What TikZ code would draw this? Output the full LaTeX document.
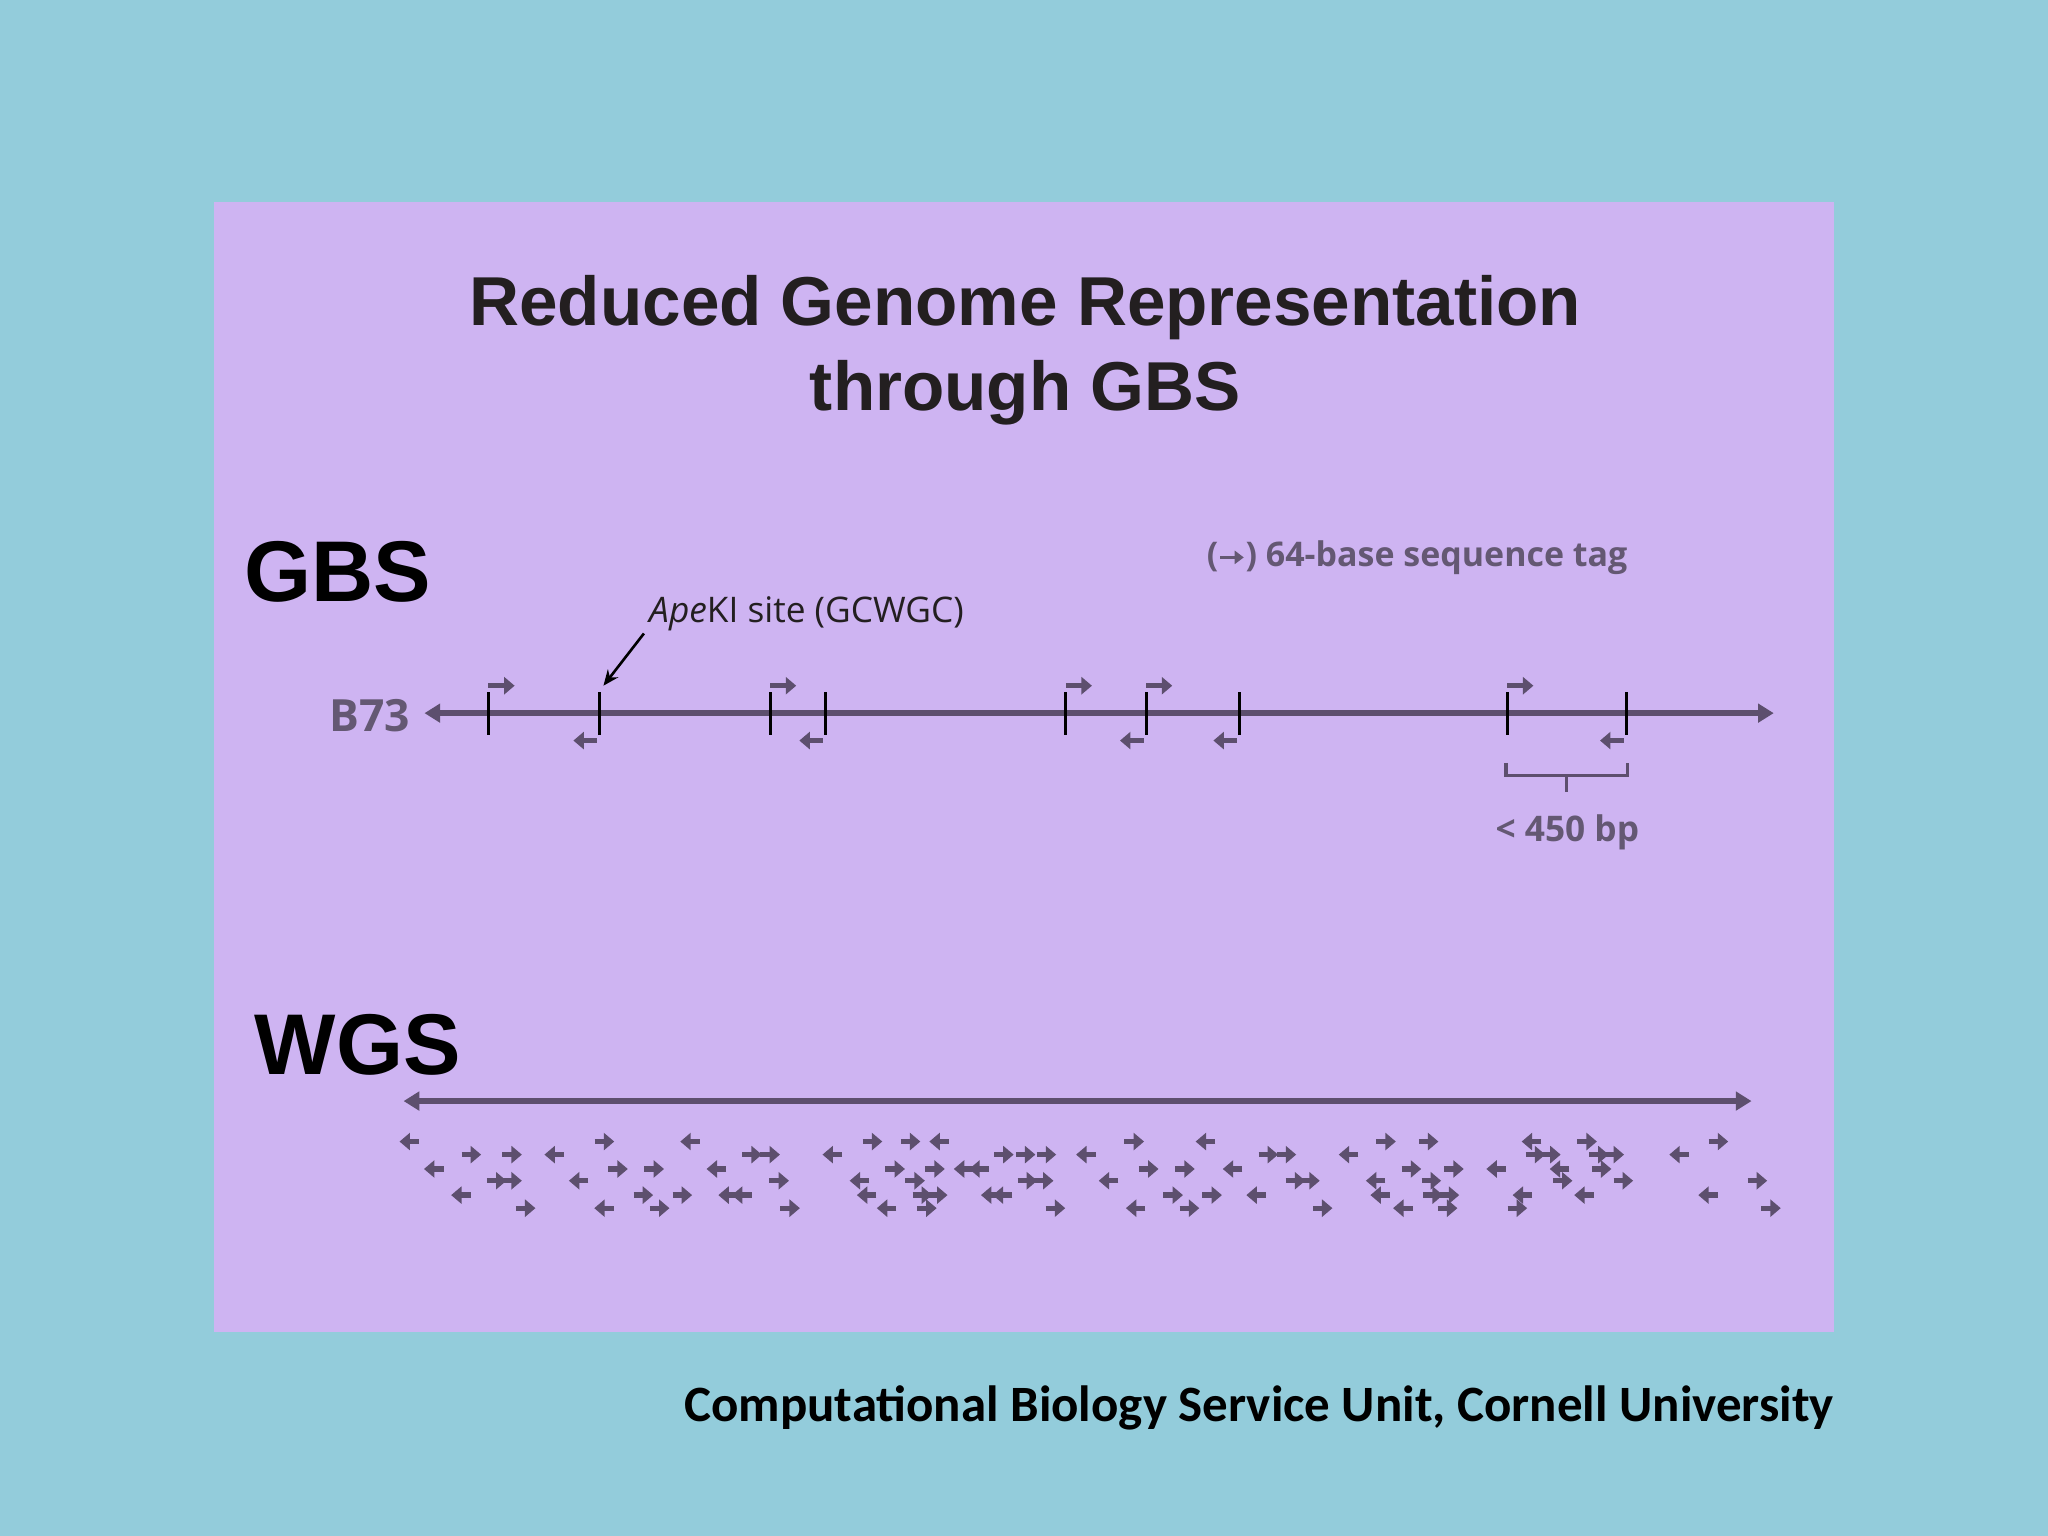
\documentclass[tikz,border=0pt]{standalone}
\usepackage{fontspec}
\setmainfont{Liberation Sans}
\newfontfamily\osans{Open Sans}
\newfontfamily\carl{Carlito}
\usetikzlibrary{arrows.meta}
\definecolor{bgblue}{RGB}{147,204,219}
\definecolor{panel}{RGB}{206,180,242}
\definecolor{dk}{RGB}{93,79,110}
\definecolor{txt}{RGB}{35,31,32}
\definecolor{gtxt}{RGB}{100,88,115}
\tikzset{
 dna/.style={dk,line width=2.5pt,{Triangle[length=6pt,width=7pt]}-{Triangle[length=6pt,width=7pt]}},
 tick/.style={black,line width=1.1pt},
 sar/.style={dk,line width=2pt,-{Triangle[length=4pt,width=6.5pt]}},
}
\newcommand{\rar}[2]{\draw[sar] (#1-7,#2) -- (#1+8,#2);}
\newcommand{\lar}[2]{\draw[sar] (#1+7,#2) -- (#1-8,#2);}
\begin{document}
\begin{tikzpicture}[x=0.5pt,y=-0.5pt]
\fill[bgblue] (0,0) rectangle (1568,1176);
\useasboundingbox (0,0) rectangle (1568,1176);
\fill[panel] (164,155) rectangle (1404,1020);
\node[txt,font=\bfseries\fontsize{26.5}{32.5}\selectfont,align=center] (title) at (785,268) {Reduced Genome Representation\\through GBS};
\node[black,font=\bfseries\fontsize{33}{36}\selectfont,anchor=west] (gbs) at (180,438) {GBS};
\node[black,font=\bfseries\fontsize{33}{36}\selectfont,anchor=west] (wgs) at (188,800) {WGS};
\node[gtxt,font=\osans\bfseries\fontsize{13}{14}\selectfont,anchor=west] (tag) at (917,427) {(\tikz[x=1pt,y=1pt,baseline=-3.5pt]\draw[gtxt,line width=1.4pt,-{Triangle[length=3.5pt,width=5pt]}] (0,0)--(9,0);) 64-base sequence tag};
\node[gtxt,font=\osans\bfseries\fontsize{17}{18}\selectfont,anchor=east] (b73) at (321,548) {B73};
\coordinate (l0) at (325,546); \coordinate (l1) at (1358,546);
\draw[dna] (l0) -- (l1);
\foreach \t in {374,459,589.6,632,816,877.5,949,1154,1245}{\draw[tick] (\t,530) -- (\t,563);}
\foreach \t in {374,589.6,816,877.5,1154}{\draw[sar] (\t,525) -- (\t+20,525);}
\foreach \t in {459,632,877.5,949,1245}{\draw[sar] (\t-2,567) -- (\t-20,567);}
\node[txt,font=\osans\fontsize{13.5}{15}\selectfont,anchor=west] (ape) at (490,470) {\textit{Ape}KI site (GCWGC)};
\coordinate (site) at (462,525);
\draw[black,line width=1pt,-{Stealth[length=6pt,width=5pt]}] (493,485) -- (site);
\draw[dk,line width=1.2pt] (1153,584) -- (1153,594) -- (1246,594) -- (1246,584) (1199.5,594) -- (1199.5,606);
\node[gtxt,font=\osans\bfseries\fontsize{13.5}{15}\selectfont] (bp) at (1200,637) {< 450 bp};
\coordinate (w0) at (309,843); \coordinate (w1) at (1341,843);
\draw[dna] (w0) -- (w1);
% reads
\def\X#1{291+0.6934*#1}
\foreach \z in {247,543,585,832,1110,1157,1332,1477}{\rar{\X{\z}}{874}}
\foreach \z in {33,343,618,912,1272}{\lar{\X{\z}}{874}}
\foreach \z in {100,145,410,430,688,712,735,980,1000,1275,1292,1345,1362}{\rar{\X{\z}}{884}}
\foreach \z in {193,500,780,1070,1435}{\lar{\X{\z}}{884}}
\foreach \z in {262,302,568,612,848,888,1138,1185,1348}{\rar{\X{\z}}{895}}
\foreach \z in {60,372,645,662,942,1233,1303}{\lar{\X{\z}}{895}}
\foreach \z in {128,145,440,590,714,732,1010,1026,1160,1305,1372,1520}{\rar{\X{\z}}{904}}
\foreach \z in {220,530,805,1100}{\lar{\X{\z}}{904}}
\foreach \z in {290,333,598,615,875,918,1162,1180}{\rar{\X{\z}}{915}}
\foreach \z in {90,385,400,538,675,688,968,1105,1262,1330,1467}{\lar{\X{\z}}{915}}
\foreach \z in {160,308,452,603,745,893,1040,1178,1255,1535}{\rar{\X{\z}}{925}}
\foreach \z in {248,560,835,1130}{\lar{\X{\z}}{925}}
\node[black,font=\carl\bfseries\fontsize{19.5}{22}\selectfont,anchor=east] (foot) at (1411,1078) {Computational Biology Service Unit, Cornell University};
\end{tikzpicture}
\end{document}
